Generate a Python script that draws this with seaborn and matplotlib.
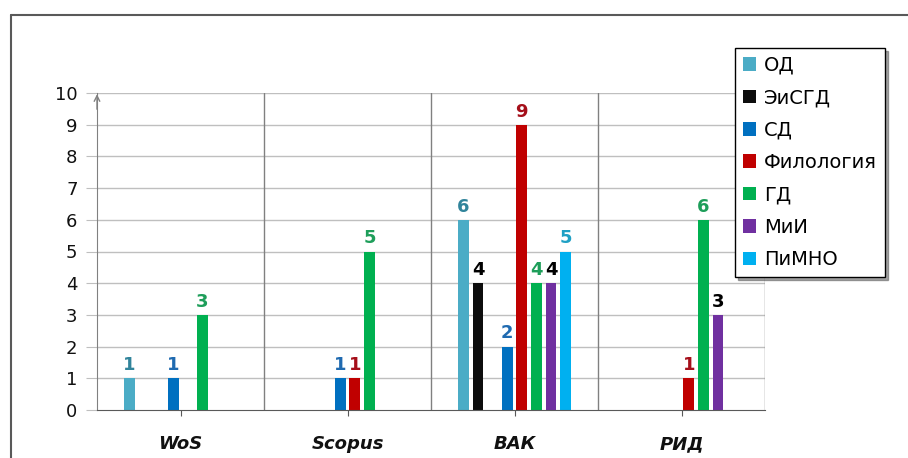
import matplotlib
matplotlib.use("Agg")
import matplotlib.pyplot as plt
import seaborn as sns
import pandas as pd
from matplotlib.lines import Line2D

# categories and series values
categories = ["WoS", "Scopus", "ВАК", "РИД"]
od = [1, 0, 6, 0]
eisgd = [0, 0, 4, 0]
spacer = [0, 0, 0, 0]   # empty slot in the original chart
sd = [1, 1, 2, 0]
filologiya = [0, 1, 9, 1]
gd = [3, 5, 4, 6]
mii = [0, 0, 4, 3]
pimno = [0, 0, 5, 0]

series_names = ["ОД", "ЭиСГД", " ", "СД", "Филология", "ГД", "МиИ", "ПиМНО"]
series_values = [od, eisgd, spacer, sd, filologiya, gd, mii, pimno]
bar_colors = ["#4BACC6", "#0D0D0D", "#FFFFFF", "#0070C0", "#C00000", "#00B050", "#7030A0", "#00B0F0"]
label_colors = ["#31849B", "#000000", "#FFFFFF", "#1F6AB0", "#A50F1A", "#1E9E5A", "#000000", "#1FA0C4"]

rows = []
for name, vals in zip(series_names, series_values):
    for cat, v in zip(categories, vals):
        rows.append({"cat": cat, "series": name, "value": v})
df = pd.DataFrame(rows)

sns.set_style("white")
plt.rcParams['font.family'] = ['DejaVu Sans']

W, H = 908, 458
fig = plt.figure(figsize=(W / 100, H / 100), dpi=100)
ax = fig.add_axes([97 / W, 1 - 410 / H, (765 - 97) / W, (410 - 93) / H])

sns.barplot(data=df, x="cat", y="value", hue="series", order=categories,
            hue_order=series_names, palette=bar_colors, width=0.7, gap=0.26,
            ax=ax, legend=True, saturation=1, edgecolor="none")

# value labels, skipping zeros
for cont, vals, col in zip(ax.containers, series_values, label_colors):
    labs = [str(v) if v > 0 else "" for v in vals]
    texts = ax.bar_label(cont, labels=labs, padding=3, fontsize=13, fontweight="bold")
    for t in texts:
        t.set_color(col)

ax.set_xlim(-0.5, 3.5)
ax.set_ylim(0, 10)
ax.set_yticks(range(0, 11))
ax.set_xlabel("")
ax.set_ylabel("")

# grid and separators
for y in range(1, 11):
    ax.axhline(y, color="#BFBFBF", lw=1, zorder=0)
for x in [0.5, 1.5, 2.5, 3.5]:
    ax.axvline(x, color="#808080", lw=1, zorder=0)

for s in ["top", "right"]:
    ax.spines[s].set_visible(False)
ax.spines["left"].set_color("#808080")
ax.spines["bottom"].set_color("#595959")
ax.annotate("", xy=(-0.5, 10.05), xytext=(-0.5, 9.4),
            arrowprops=dict(arrowstyle="->", color="#808080", lw=1),
            annotation_clip=False)

ax.tick_params(axis="y", length=8, color="#BFBFBF", labelsize=13, pad=6, left=True,
               labelcolor="#111111")
ax.tick_params(axis="x", length=4, color="#595959", pad=14, bottom=True, labelcolor="#111111")
for t in ax.get_xticklabels():
    t.set_fontsize(13)
    t.set_fontweight("bold")
    t.set_fontstyle("italic")

# legend without the empty slot
handles, labels = ax.get_legend_handles_labels()
keep = [(h, l) for h, l in zip(handles, labels) if l.strip()]
leg = ax.legend([h for h, _ in keep], [l for _, l in keep], loc="upper left",
                bbox_to_anchor=(735 / W, 1 - 48 / H), bbox_transform=fig.transFigure,
                fontsize=14, frameon=True, fancybox=False, shadow=True, edgecolor="#000000",
                framealpha=1, borderaxespad=0, borderpad=0.4, labelspacing=0.69,
                handlelength=0.7, handleheight=0.7, handletextpad=0.4)
for t in leg.get_texts():
    t.set_color("#000000")

# outer frame
fig.add_artist(Line2D([11 / W, 11 / W], [0, 1 - 15 / H], transform=fig.transFigure, color="#595959", lw=1.5))
fig.add_artist(Line2D([11 / W, 1], [1 - 15 / H, 1 - 15 / H], transform=fig.transFigure, color="#595959", lw=1.5))

fig.savefig("out.png", dpi=100)
